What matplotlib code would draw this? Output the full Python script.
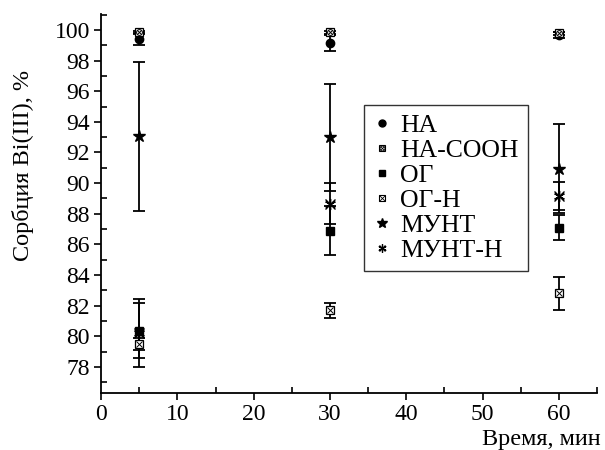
import matplotlib
matplotlib.use("Agg")
import matplotlib.pyplot as plt
from matplotlib.ticker import MultipleLocator
from matplotlib.lines import Line2D
from matplotlib.legend_handler import HandlerTuple

plt.rcParams['font.family'] = ['Liberation Serif', 'DejaVu Serif']

times = [5, 30, 60]
labels = ['НА', 'НА-СООН', 'ОГ', 'ОГ-Н', 'МУНТ', 'МУНТ-Н']
na = [99.4, 99.15, 99.65]
na_err = [0.4, 0.5, 0.2]
na_cooh = [99.85, 99.85, 99.8]
na_cooh_err = [0.1, 0.1, 0.1]
og = [80.35, 86.9, 87.1]
og_err = [1.8, 1.6, 0.8]
og_h = [79.5, 81.7, 82.8]
og_h_err = [0.4, 0.5, 1.1]
munt = [93.05, 93.0, 90.95]
munt_err = [4.85, 3.5, 2.9]
munt_h = [80.2, 88.65, 89.15]
munt_h_err = [2.2, 1.35, 0.9]

fig = plt.figure(figsize=(6.05, 4.5), dpi=100)
ax = fig.add_axes([0.167, 0.127, 0.82, 0.842])

ekw = dict(ecolor='black', elinewidth=1.3, capsize=4, capthick=1.3, linestyle='none')
ms = 6

# error bars
for vals, errs in [(na, na_err), (na_cooh, na_cooh_err), (og, og_err), (og_h, og_h_err),
                   (munt, munt_err), (munt_h, munt_h_err)]:
    ax.errorbar(times, vals, yerr=errs, fmt='none', **ekw)

# markers
ax.plot(times, na, 'o', color='black', ms=ms, zorder=3)
ax.plot(times, na_cooh, 's', mfc='white', mec='black', ms=ms, mew=0.9, zorder=3)
ax.plot(times, na_cooh, 'o', mfc='none', mec='black', ms=ms*0.7, mew=0.7, zorder=3)
ax.plot(times, na_cooh, 'x', color='black', ms=ms*0.55, mew=0.7, zorder=3)
ax.plot(times, og, 's', color='black', ms=ms, zorder=3)
ax.plot(times, og_h, 's', mfc='white', mec='black', ms=ms, mew=0.9, zorder=3)
ax.plot(times, og_h, 'x', color='black', ms=ms*0.75, mew=0.7, zorder=3)
ax.plot(times, munt, '*', color='black', ms=ms+3, zorder=3)
ax.plot(times, munt_h, marker=(6, 2, 0), linestyle='none', color='black', ms=ms+2, mew=1.0, zorder=3)
ax.plot(times, munt_h, 'x', color='black', ms=ms+1, mew=1.0, zorder=3)

ax.set_xlim(0, 65)
ax.set_ylim(76.3, 101.05)
ax.xaxis.set_major_locator(MultipleLocator(10))
ax.xaxis.set_minor_locator(MultipleLocator(5))
ax.yaxis.set_major_locator(MultipleLocator(2))
ax.yaxis.set_minor_locator(MultipleLocator(1))
ax.set_yticks(range(78, 101, 2))
ax.tick_params(which='major', direction='out', length=5, width=1.2, labelsize=17, pad=3)
ax.tick_params(which='minor', direction='in', length=4, width=1.2)
for s in ['top', 'right']:
    ax.spines[s].set_visible(False)
for s in ['left', 'bottom']:
    ax.spines[s].set_linewidth(1.3)

ax.set_ylabel('Сорбция Bi(III), %', fontsize=17.5)
ax.yaxis.set_label_coords(-0.135, 0.6)
fig.text(0.992, 0.012, 'Время, мин', ha='right', va='baseline', fontsize=17.5)

# legend handles
h_na = Line2D([], [], marker='o', color='black', ls='none', ms=5)
h_cooh = (Line2D([], [], marker='s', mfc='white', mec='black', ls='none', ms=5, mew=0.8),
          Line2D([], [], marker='o', mfc='none', mec='black', ls='none', ms=3.5, mew=0.6),
          Line2D([], [], marker='x', color='black', ls='none', ms=3, mew=0.6))
h_og = Line2D([], [], marker='s', color='black', ls='none', ms=5)
h_ogh = (Line2D([], [], marker='s', mfc='white', mec='black', ls='none', ms=5, mew=0.8),
         Line2D([], [], marker='x', color='black', ls='none', ms=4, mew=0.6))
h_munt = Line2D([], [], marker='*', color='black', ls='none', ms=7)
h_munth = (Line2D([], [], marker=(6, 2, 0), color='black', ls='none', ms=6, mew=0.9),
           Line2D([], [], marker='x', color='black', ls='none', ms=5, mew=0.9))
leg = ax.legend([h_na, h_cooh, h_og, h_ogh, h_munt, h_munth], labels,
                handler_map={tuple: HandlerTuple(ndivide=1, pad=0)},
                loc='upper left', bbox_to_anchor=(0.602, 0.767), bbox_transform=fig.transFigure,
                fontsize=18.5, frameon=True, fancybox=False, edgecolor='black',
                handlelength=0.7, handletextpad=0.35, labelspacing=0.08, borderpad=0.35,
                borderaxespad=0)
leg.get_frame().set_linewidth(1.0)

fig.savefig('out.png', dpi=100)
